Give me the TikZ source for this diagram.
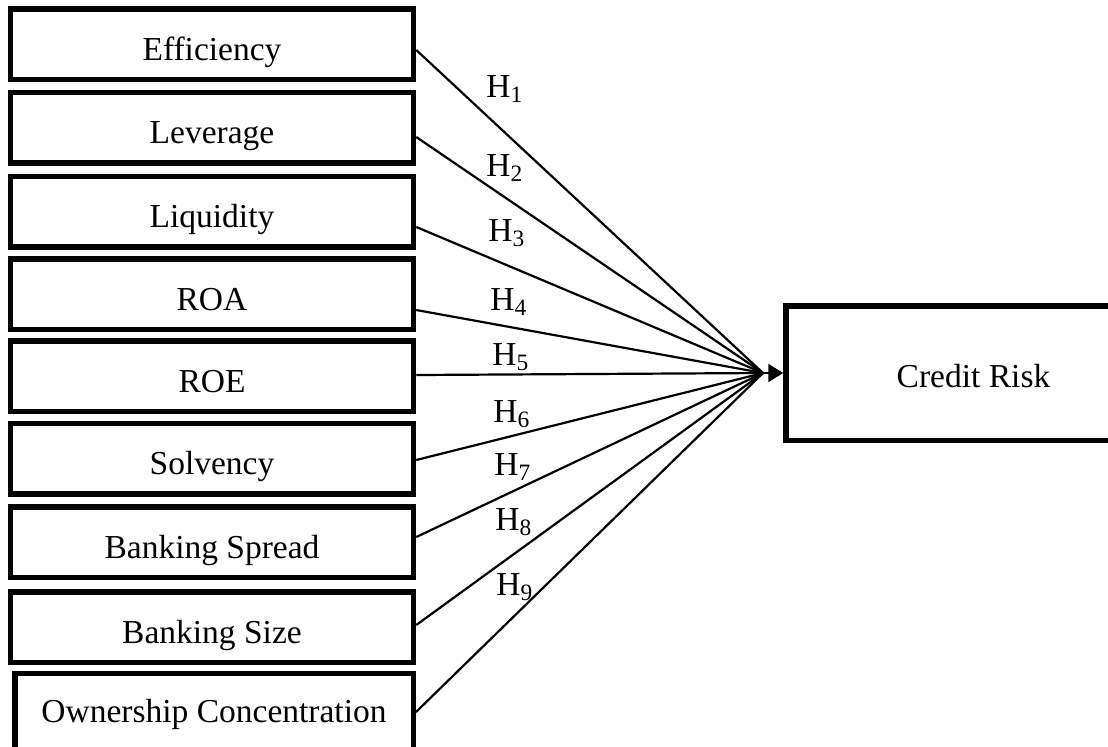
\documentclass[tikz,border=0pt]{standalone}
\usepackage{fontspec}
\setmainfont{Liberation Serif}
\usetikzlibrary{arrows.meta}

\begin{document}
\begin{tikzpicture}[x=0.5pt, y=-0.5pt, >={Triangle[length=7.5pt,width=9pt]},
    every node/.style={font=\fontsize{16.75pt}{20pt}\selectfont},
    factor/.style={draw, line width=2.75pt, minimum width=201.5pt, minimum height=35.25pt,
        inner sep=0pt, text height=16pt, text depth=0pt},
    link/.style={line width=1.1pt},
    hyp/.style={anchor=base west, inner sep=0pt}]
  % 画面范围
  \clip (0,0) rectangle (1108,746);

  % 自变量
  \node[factor] (eff) at (212,44) {Efficiency};
  \node[factor] (lev) at (212,127.5) {Leverage};
  \node[factor] (liq) at (212,211.5) {Liquidity};
  \node[factor] (roa) at (212,294) {ROA};
  \node[factor] (roe) at (212,376) {ROE};
  \node[factor] (sol) at (212,458.5) {Solvency};
  \node[factor] (spr) at (212,542) {Banking Spread};
  \node[factor] (siz) at (212,627) {Banking Size};
  \node[factor, minimum width=199.25pt, minimum height=38pt, text height=10.5pt] (own) at (214,711.5) {Ownership Concentration};

  % 因变量
  \node[factor, minimum width=187.5pt, minimum height=67.25pt, text height=14pt] (credit) at (973.5,373) {Credit Risk};

  % 汇合点
  \coordinate (hub) at (763,373);

  % 假设路径
  \foreach \src/\dy in {eff/-3pt, lev/-4.75pt, liq/-7.75pt, roa/-8pt, roe/0.5pt,
      sol/-0.75pt, spr/2.5pt, siz/1pt, own/-0.25pt}
    \draw[link] ([yshift=\dy]\src.east) -- (hub);
  \draw[link, ->] (hub) -- (credit.west);

  % 假设标签
  \node[hyp] (h1) at (486,97) {H\textsubscript{1}};
  \node[hyp] (h2) at (486,176) {H\textsubscript{2}};
  \node[hyp] (h3) at (488,241) {H\textsubscript{3}};
  \node[hyp] (h4) at (490,310) {H\textsubscript{4}};
  \node[hyp] (h5) at (492,365) {H\textsubscript{5}};
  \node[hyp] (h6) at (493,422) {H\textsubscript{6}};
  \node[hyp] (h7) at (494,475) {H\textsubscript{7}};
  \node[hyp] (h8) at (495,530) {H\textsubscript{8}};
  \node[hyp] (h9) at (496,595) {H\textsubscript{9}};
\end{tikzpicture}
\end{document}
